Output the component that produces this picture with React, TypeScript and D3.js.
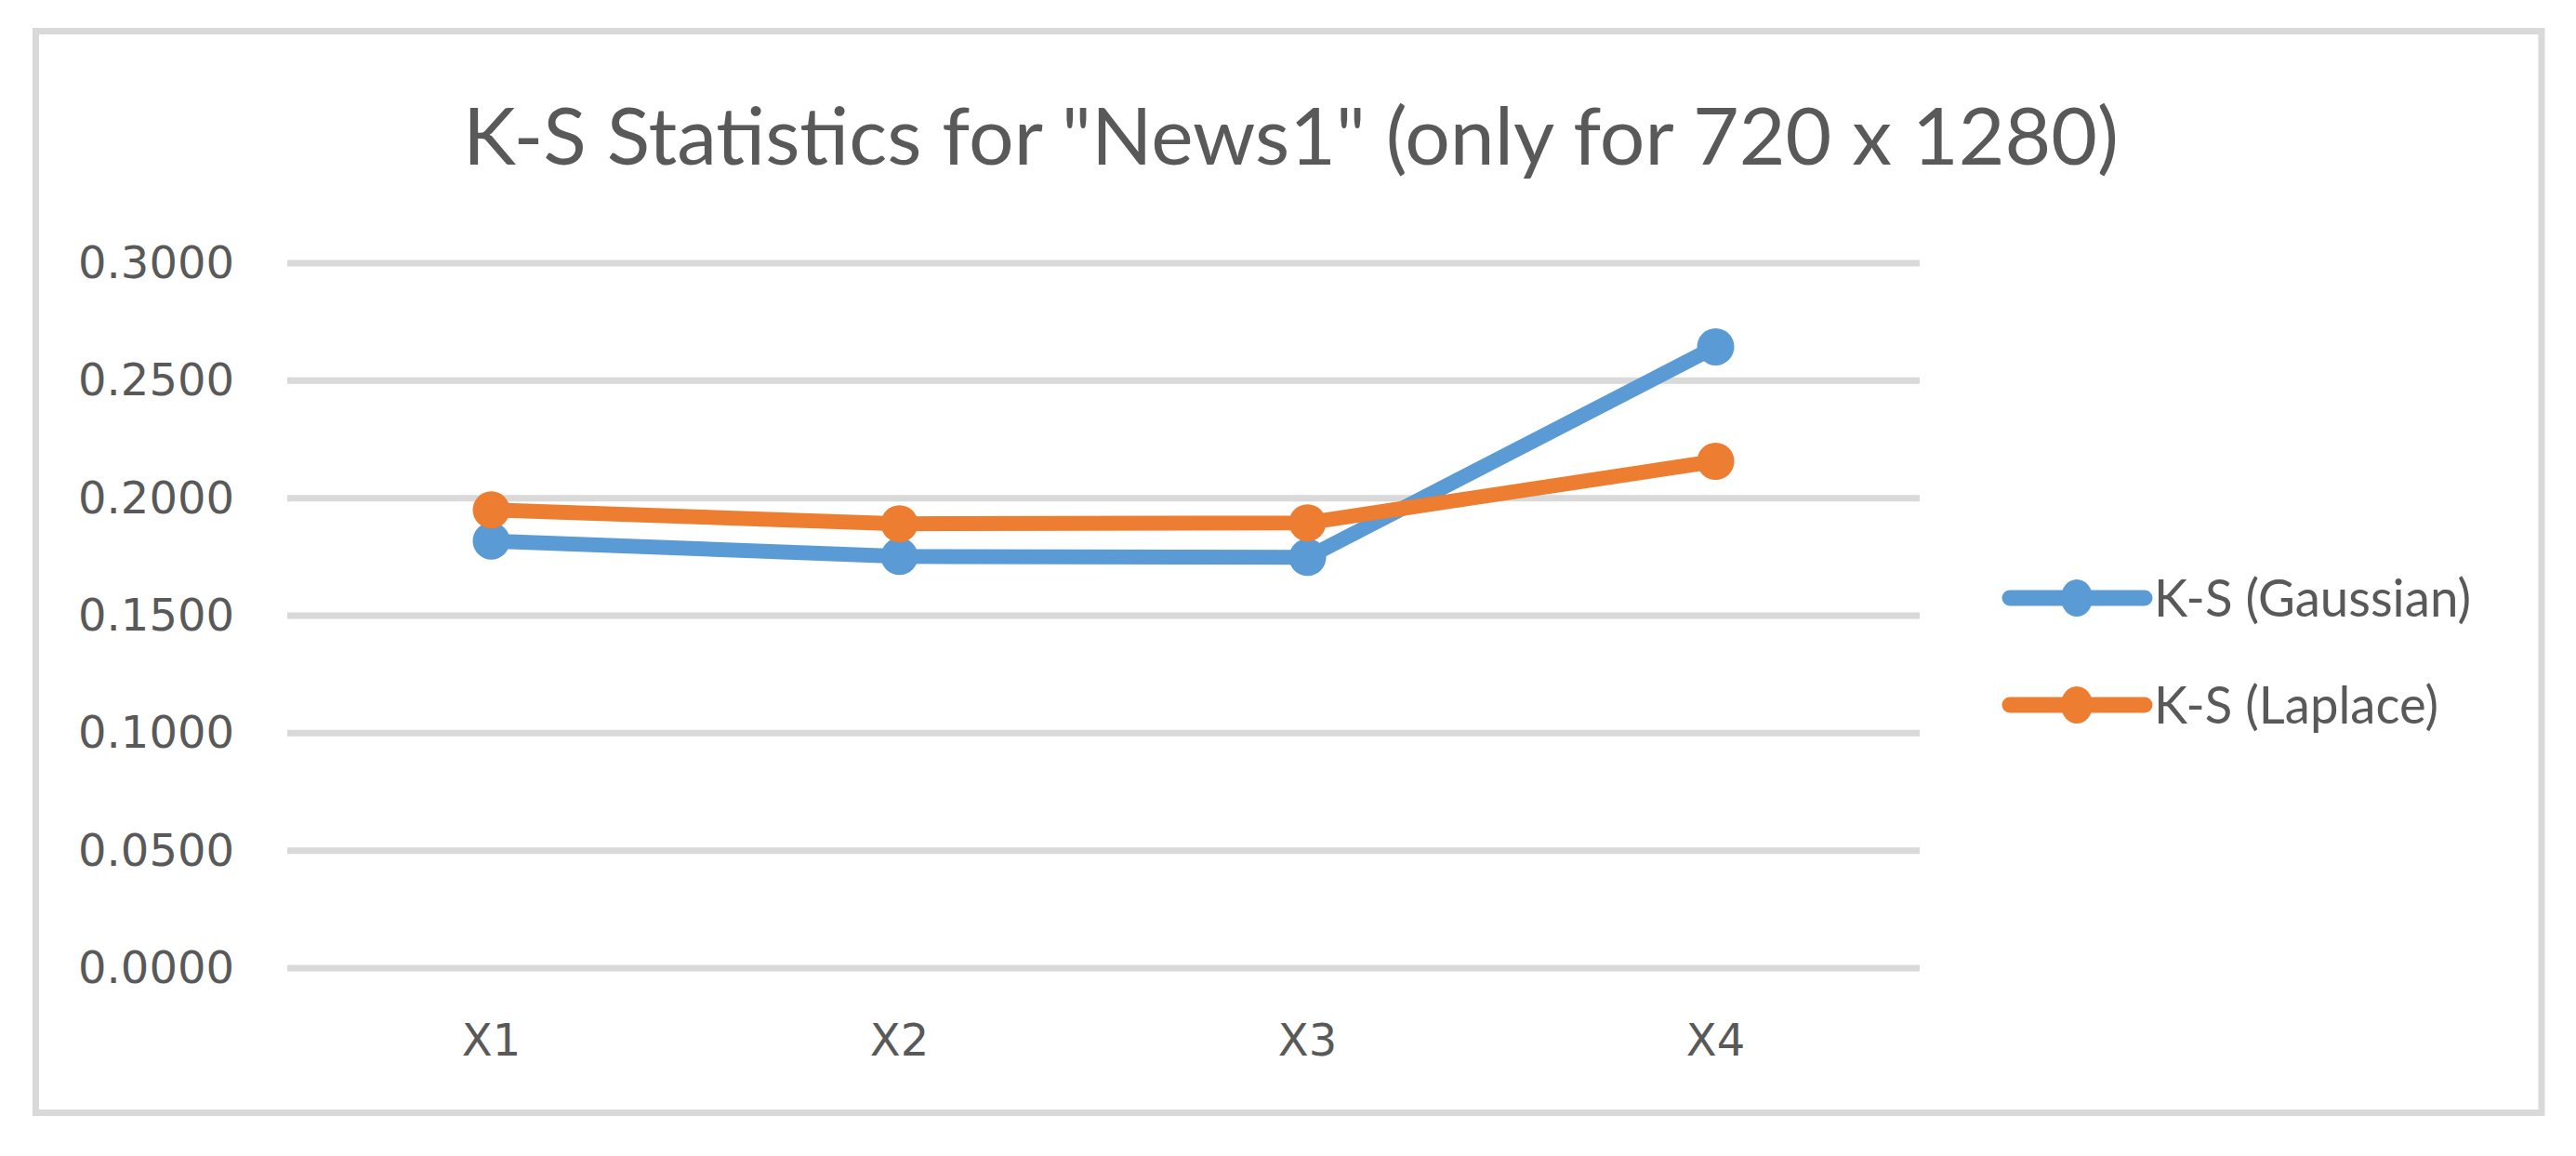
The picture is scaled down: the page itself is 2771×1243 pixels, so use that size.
import React from "react";
import * as d3 from "d3";

const titleText = 'K-S Statistics for "News1" (only for 720 x 1280)';
const categories = ["X1", "X2", "X3", "X4"];
const seriesNames = ["K-S (Gaussian)", "K-S (Laplace)"];
const gaussianValues = [0.1818, 0.1752, 0.1748, 0.2644];
const laplaceValues = [0.195, 0.1891, 0.1895, 0.2157];
const yTicks = [0, 0.05, 0.1, 0.15, 0.2, 0.25, 0.3];
const seriesColors = ["#5b9bd5", "#ed7d31"];

const W = 2771;
const H = 1243;

export default function App() {
  const x = d3.scalePoint<string>().domain(categories).range([309, 2065]).padding(0.5);
  const y = d3.scaleLinear().domain([0, 0.3]).range([1041, 283]);
  const fmt = d3.format(".4f");
  const series = [gaussianValues, laplaceValues];
  const line = d3
    .line<number>()
    .x((_, i) => x(categories[i]) as number)
    .y((v) => y(v));

  const legendY = [643, 758];
  const legendTextLen = [341, 306];

  return (
    <svg
      width={W}
      height={H}
      style={{ position: "absolute", left: 0, top: 0, background: "#fff" }}
    >
      <rect x={0} y={0} width={W} height={H} fill="#ffffff" />
      <rect
        x={38.5}
        y={33.5}
        width={2734 - 38.5}
        height={1196.5 - 33.5}
        fill="#ffffff"
        stroke="#d9d9d9"
        strokeWidth={7}
      />
      <text
        x={1388.5}
        y={177}
        textAnchor="middle"
        fontFamily="Lato, 'Open Sans', sans-serif"
        fontSize={86}
        fill="#595959"
        textLength={1781}
        lengthAdjust="spacingAndGlyphs"
      >
        {titleText}
      </text>
      {yTicks.map((t) => (
        <g key={t}>
          <line x1={309} x2={2065} y1={y(t)} y2={y(t)} stroke="#d9d9d9" strokeWidth={7} />
          <text
            x={252}
            y={y(t) + 16}
            textAnchor="end"
            fontFamily="'DejaVu Sans', sans-serif"
            fontSize={48}
            fill="#595959"
          >
            {fmt(t)}
          </text>
        </g>
      ))}
      {categories.map((c) => (
        <text
          key={c}
          x={x(c) as number}
          y={1135}
          textAnchor="middle"
          fontFamily="'DejaVu Sans', sans-serif"
          fontSize={48}
          fill="#595959"
        >
          {c}
        </text>
      ))}
      {series.map((vals, si) => (
        <g key={si}>
          <path
            d={line(vals) as string}
            fill="none"
            stroke={seriesColors[si]}
            strokeWidth={16}
            strokeLinejoin="round"
            strokeLinecap="round"
          />
          {vals.map((v, i) => (
            <circle key={i} cx={x(categories[i]) as number} cy={y(v)} r={20} fill={seriesColors[si]} />
          ))}
        </g>
      ))}
      {seriesNames.map((name, si) => (
        <g key={name}>
          <line
            x1={2162}
            x2={2307}
            y1={legendY[si]}
            y2={legendY[si]}
            stroke={seriesColors[si]}
            strokeWidth={17}
            strokeLinecap="round"
          />
          <ellipse cx={2234} cy={legendY[si]} rx={17} ry={20} fill={seriesColors[si]} />
          <text
            x={2317}
            y={legendY[si] + 20}
            fontFamily="Lato, 'Open Sans', sans-serif"
            fontSize={56}
            fill="#595959"
            textLength={legendTextLen[si]}
            lengthAdjust="spacingAndGlyphs"
          >
            {name}
          </text>
        </g>
      ))}
    </svg>
  );
}
